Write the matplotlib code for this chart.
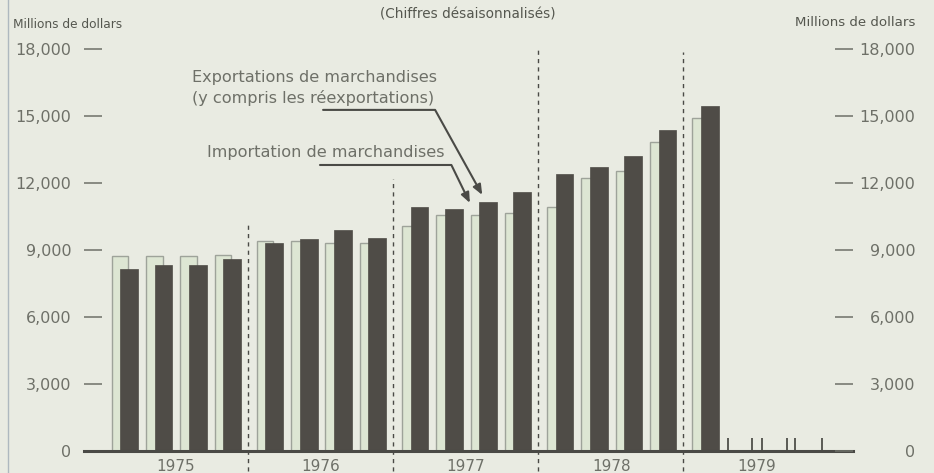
import matplotlib
matplotlib.use("Agg")
import matplotlib.pyplot as plt
from matplotlib.lines import Line2D

# ---- data ----
years = ["1975", "1976", "1977", "1978", "1979"]
quarters_per_year = [4, 4, 4, 4, 1]
imports = [8700, 8720, 8700, 8770,
           9370, 9370, 9300, 9300,
           10080, 10570, 10570, 10640,
           10910, 12210, 12550, 13850,
           14900]
exports = [8150, 8330, 8310, 8600,
           9300, 9490, 9900, 9520,
           10910, 10820, 11120, 11570,
           12390, 12730, 13210, 14370,
           15450]
yticks = [0, 3000, 6000, 9000, 12000, 15000, 18000]
ytick_labels = ["0", "3,000", "6,000", "9,000", "12,000", "15,000", "18,000"]
sep_tops = [10300, 12150, 18050, 17870]
marks_1979 = [17.73, 18.43, 18.72, 19.45, 19.68, 20.47]

# ---- style ----
BG = "#e9ebe2"
TXT = "#6e7068"
TXT_D = "#55574f"
LIGHT = "#dde6d3"
LIGHT_EDGE = "#9ea39a"
DARK = "#4f4c47"
LINE = "#4a4a46"

W, H = 934, 473
fig = plt.figure(figsize=(W / 100, H / 100), dpi=100, facecolor=BG)
ax = fig.add_axes([84 / W, 1 - 450.5 / H, (853 - 84) / W, (450.5 - 49) / H])
ax.set_facecolor(BG)

year_pitch = 4.23
xs = []
for yi, nq in enumerate(quarters_per_year):
    for q in range(nq):
        xs.append(yi * year_pitch + q)

dark_off = 0.27
ax.bar(xs, imports, width=0.48, color=LIGHT, edgecolor=LIGHT_EDGE,
       linewidth=1.0, zorder=2)
ax.bar([x + dark_off for x in xs], exports, width=0.52, color=DARK,
       edgecolor=DARK, linewidth=0.5, zorder=3)

ax.set_xlim(-1.05, 21.37)
ax.set_ylim(0, 18000)

# year separators (dashed)
for i, top in enumerate(sep_tops):
    xsep = (i + 1) * year_pitch - 0.5
    ax.vlines(xsep, -900, top, colors=LINE, linestyles=(0, (3, 3)),
              linewidth=1.0, clip_on=False, zorder=1)

# spines
for s in ["top", "left", "right"]:
    ax.spines[s].set_visible(False)
ax.spines["bottom"].set_color(LINE)
ax.spines["bottom"].set_linewidth(2.2)
ax.spines["bottom"].set_zorder(4)

# year labels as x tick labels
year_centers = [yi * year_pitch + 1.63 for yi in range(len(years))]
ax.set_xticks(year_centers)
ax.set_xticklabels(years)
ax.tick_params(axis="x", which="major", length=0, pad=6, labelsize=11,
               labelcolor=TXT)
ax.set_xticks(marks_1979, minor=True)
ax.tick_params(axis="x", which="minor", direction="in", length=9.5,
               width=1.4, color="#5a5b55")

# left axis
ax.set_yticks(yticks)
ax.set_yticklabels(ytick_labels)
ax.tick_params(axis="y", direction="in", length=13, width=1.1, color=TXT,
               pad=9, labelsize=11.5, labelcolor=TXT)

# right axis
ax2 = ax.twinx()
ax2.set_ylim(0, 18000)
for s in ["top", "left", "right", "bottom"]:
    ax2.spines[s].set_visible(False)
ax2.set_yticks(yticks)
ax2.set_yticklabels(ytick_labels)
ax2.tick_params(axis="y", direction="in", length=13, width=1.1, color=TXT,
                pad=45, labelsize=11.5, labelcolor=TXT)
for lbl in ax2.get_yticklabels():
    lbl.set_horizontalalignment("right")

# texts
fig.text(13 / W, 1 - 24 / H, "Millions de dollars", fontsize=8.7,
         color=TXT_D, va="center", ha="left")
fig.text(915 / W, 1 - 23 / H, "Millions de dollars", fontsize=9.6,
         color=TXT_D, va="center", ha="right")
fig.text(468 / W, 1 - 15 / H, "(Chiffres désaisonnalisés)", fontsize=9.8,
         color=TXT_D, va="center", ha="center")
fig.text(192 / W, 1 - 77 / H, "Exportations de marchandises", fontsize=11.6,
         color=TXT, va="center", ha="left")
fig.text(192 / W, 1 - 98 / H, "(y compris les réexportations)", fontsize=11.6,
         color=TXT, va="center", ha="left")
fig.text(207 / W, 1 - 153 / H, "Importation de marchandises", fontsize=11.6,
         color=TXT, va="center", ha="left")

# leader arrows to 1977 Q3
i77q3 = 10
ax.annotate("", xy=(xs[i77q3] + dark_off - 0.17, exports[i77q3] + 340),
            xytext=(5.92, 15270), textcoords="data",
            arrowprops=dict(arrowstyle="-|>,head_length=0.6,head_width=0.25",
                            connectionstyle="angle,angleA=0,angleB=-61,rad=0",
                            color=LINE, lw=1.5, shrinkA=0, shrinkB=0),
            zorder=5)
ax.annotate("", xy=(xs[i77q3] - 0.26, imports[i77q3] + 530),
            xytext=(5.83, 12800), textcoords="data",
            arrowprops=dict(arrowstyle="-|>,head_length=0.6,head_width=0.25",
                            connectionstyle="angle,angleA=0,angleB=-64,rad=0",
                            color=LINE, lw=1.5, shrinkA=0, shrinkB=0),
            zorder=5)

# page edge of the scan
fig.add_artist(Line2D([8 / W, 8 / W], [0, 1], color="#aeb8bf", lw=1.0))

fig.savefig("out.png", dpi=100, facecolor=BG)
